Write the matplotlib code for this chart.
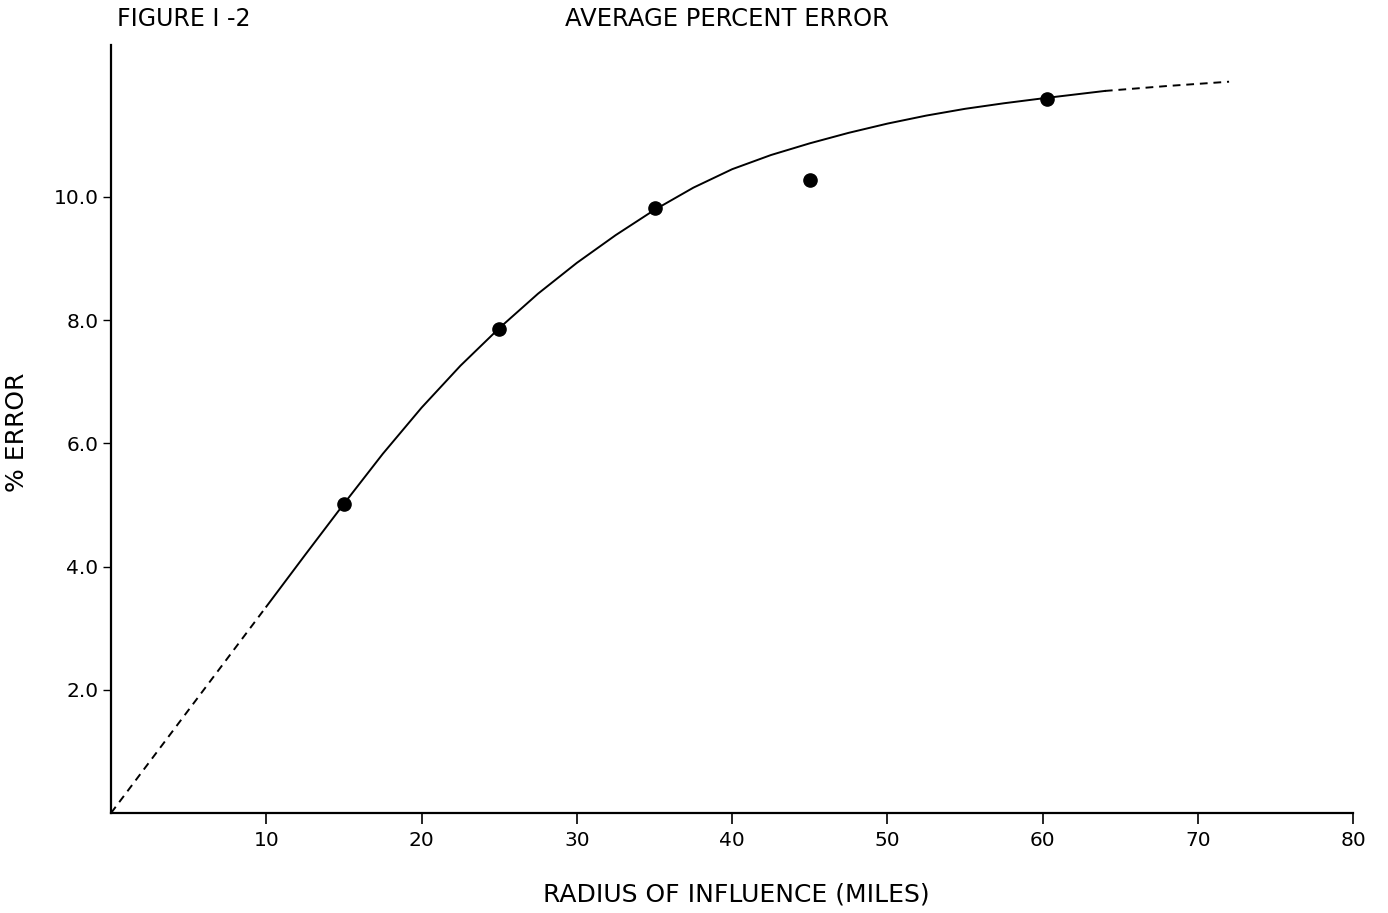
import matplotlib.pyplot as plt

plt.rcParams['font.family'] = ['DejaVu Sans']

# observed points
radius = [15, 25, 35, 45, 60.3]
pct_error = [5.02, 7.86, 9.82, 10.28, 11.59]

# fitted curve
curve_x = [10, 12.5, 15, 17.5, 20, 22.5, 25, 27.5, 30, 32.5, 35, 37.5, 40,
           42.5, 45, 47.5, 50, 52.5, 55, 57.5, 60, 62, 64]
curve_y = [3.35, 4.19, 5.02, 5.83, 6.58, 7.26, 7.87, 8.43, 8.93, 9.38, 9.79,
           10.15, 10.45, 10.68, 10.87, 11.04, 11.19, 11.32, 11.43, 11.52,
           11.6, 11.66, 11.72]
# dashed extrapolations
low_x = [0, 10]
low_y = [0, 3.35]
high_x = [64, 68, 72]
high_y = [11.72, 11.8, 11.87]

xticks = [10, 20, 30, 40, 50, 60, 70, 80]
yticks = [2.0, 4.0, 6.0, 8.0, 10.0]

fig = plt.figure(figsize=(13.88, 9.13), dpi=100)
ax = fig.add_axes([0.080, 0.1095, 0.895, 0.8415])

ax.plot(curve_x, curve_y, color='black', lw=1.4, solid_joinstyle='round')
ax.plot(low_x, low_y, color='black', lw=1.4, ls=(0, (4, 3)))
ax.plot(high_x, high_y, color='black', lw=1.4, ls=(0, (4, 3)))
ax.plot(radius, pct_error, 'o', color='black', ms=9.5)

ax.set_xlim(0, 80)
ax.set_ylim(0, 12.47)
ax.spines['top'].set_visible(False)
ax.spines['right'].set_visible(False)
ax.spines['left'].set_linewidth(1.6)
ax.spines['bottom'].set_linewidth(1.6)

ax.set_xticks(xticks)
ax.set_xticklabels([str(t) for t in xticks])
ax.set_yticks(yticks)
ax.set_yticklabels(['%.1f' % t for t in yticks])
ax.tick_params(axis='x', length=8, width=1.2, labelsize=14.5, pad=5)
ax.tick_params(axis='y', length=6, width=1.0, labelsize=14.5, pad=3)

ax.set_xlabel('RADIUS OF INFLUENCE (MILES)', fontsize=18)
ax.set_ylabel('% ERROR', fontsize=18)
ax.xaxis.set_label_coords(0.503, -0.09)
ax.yaxis.set_label_coords(-0.066, 0.495)

fig.text(0.084, 0.979, 'FIGURE Ⅰ -2', fontsize=17, va='center', ha='left')
fig.text(0.524, 0.979, 'AVERAGE PERCENT ERROR', fontsize=17.5, va='center',
         ha='center')

fig.savefig('out.png', dpi=100)
